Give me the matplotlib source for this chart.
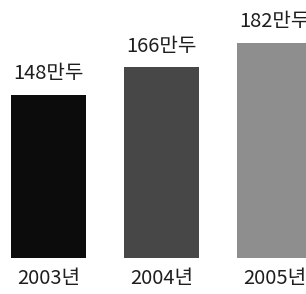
import matplotlib
matplotlib.use("Agg")
import matplotlib.pyplot as plt

years = ["2003년", "2004년", "2005년"]
values = [148, 166, 182]
value_labels = ["148만두", "166만두", "182만두"]
colors = ["#0c0c0c", "#474747", "#8e8e8e"]

plt.rcParams["font.family"] = ["Noto Sans CJK KR", "DejaVu Sans"]

fig = plt.figure(figsize=(3.06, 2.94), dpi=100)
ax = fig.add_axes([0, 36 / 294, 1, 258 / 294])
base = 41.4
x = list(range(len(years)))
ax.bar(x, [v - base for v in values], bottom=base, width=0.664,
       color=colors, edgecolor="none")
for xi, v, lab in zip(x, values, value_labels):
    ax.text(xi, v + 7, lab, ha="center", va="bottom", fontsize=14.5,
            fontweight="light", color="#1e1e1e")
ax.set_xlim(-0.429, 2.279)
ax.set_ylim(base, 210.1)
ax.set_xticks(x)
ax.set_xticklabels(years, fontsize=14.5, fontweight="light", color="#1e1e1e")
ax.tick_params(axis="x", length=0, pad=7)
ax.set_yticks([])
for s in ax.spines.values():
    s.set_visible(False)
fig.savefig("out.png", dpi=100)
